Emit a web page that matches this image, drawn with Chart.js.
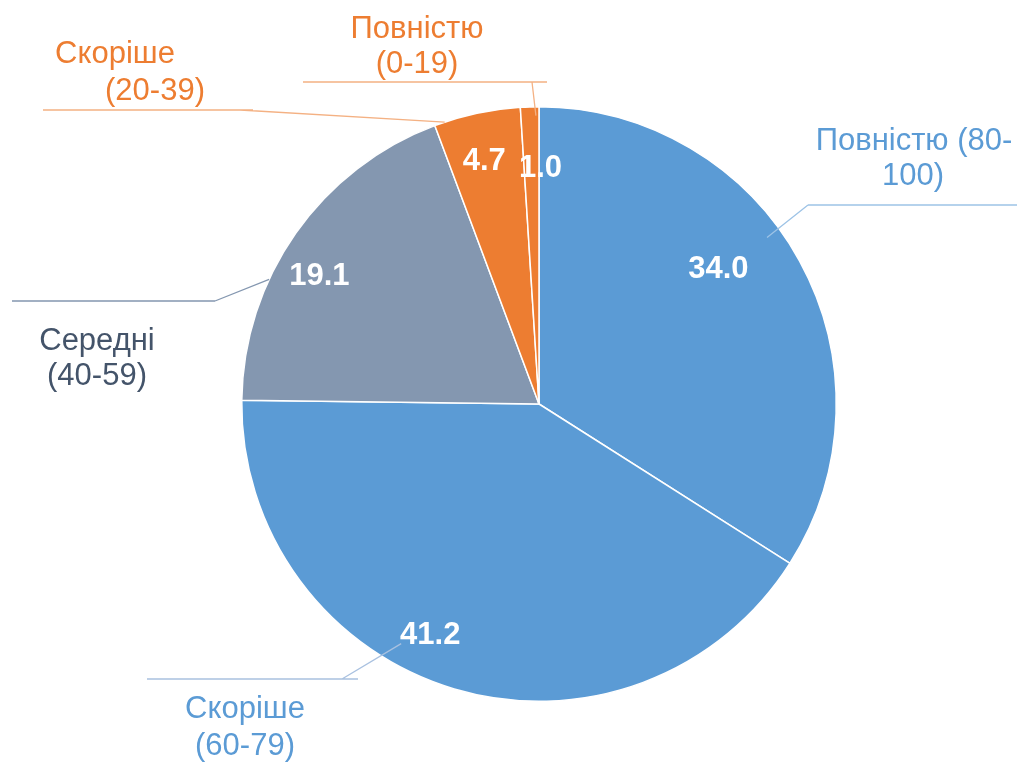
<!DOCTYPE html>
<html><head><meta charset="utf-8">
<script src="https://cdn.jsdelivr.net/npm/chart.js@4.4.1/dist/chart.umd.min.js"></script>
<style>html,body{margin:0;padding:0;background:#fff}#wrap{width:1025px;height:762px;position:relative}</style>
</head><body><div id="wrap"><canvas id="c" width="1025" height="762"></canvas></div>
<script>
// ---- data ----
const categories = [['Повністю (80-','100)'], ['Скоріше','(60-79)'], ['Середні','(40-59)'], ['Скоріше','(20-39)'], ['Повністю','(0-19)']];
const values = [34.0, 41.2, 19.1, 4.7, 1.0];
const valueLabels = values.map(v => v.toFixed(1));

// ---- styles ----
const sliceColors = ['#5B9BD5','#5B9BD5','#8497B0','#ED7D31','#ED7D31'];
const textColors = ['#5B9BD5','#5B9BD5','#44546A','#ED7D31','#ED7D31'];
const leaderColors = ['#9DC3E6','#A9C1E0','#8497B0','#F4B183','#F4B183'];

// ---- callout layout (text baselines, horizontal rule, elbow, anchor on slice) ----
const callouts = [
  {lines:[[914,150],[913,185]], rule:[808,1017,205], elbow:[808,205], t:0.44, rf:0.95},
  {lines:[[245,718],[245,755]], rule:[147,358,679], elbow:[342,679], t:0.59, rf:0.93},
  {lines:[[97,350],[97,385]],   rule:[12,215,301],   elbow:[215,301], t:0.35, rf:1.0},
  {lines:[[115,63],[155,100]],  rule:[43,253,110],   elbow:[240,110], t:0.12, rf:1.0},
  {lines:[[417,38],[417,73]],   rule:[303,547,82],   elbow:[532,82],  t:0.83, rf:0.97}
];
const valueOffsets = [[-29,-23],[-41,1],[-25,7],[-5,-13],[9,0]];
const FONT = '"Liberation Sans", Arial, sans-serif';

const calloutPlugin = {
  id: 'callouts',
  afterDatasetsDraw(chart) {
    const ctx = chart.ctx;
    const arcs = chart.getDatasetMeta(0).data;
    const props = arcs.map(a => a.getProps(['x','y','startAngle','endAngle','outerRadius'], true));
    ctx.save();
    // leader lines
    props.forEach((p, i) => {
      const c = callouts[i];
      const a = p.startAngle + c.t * (p.endAngle - p.startAngle);
      const ax = p.x + Math.cos(a) * p.outerRadius * c.rf;
      const ay = p.y + Math.sin(a) * p.outerRadius * c.rf;
      ctx.strokeStyle = leaderColors[i];
      ctx.lineWidth = 1.3;
      ctx.beginPath();
      ctx.moveTo(c.rule[0], c.rule[2]); ctx.lineTo(c.rule[1], c.rule[2]);
      ctx.moveTo(c.elbow[0], c.elbow[1]); ctx.lineTo(ax, ay);
      ctx.stroke();
    });
    // category texts
    ctx.textAlign = 'center';
    ctx.textBaseline = 'alphabetic';
    ctx.font = '31px ' + FONT;
    props.forEach((p, i) => {
      ctx.fillStyle = textColors[i];
      categories[i].forEach((t, k) => ctx.fillText(t, callouts[i].lines[k][0], callouts[i].lines[k][1]));
    });
    // value labels
    const fs = 31;
    ctx.font = 'bold ' + fs + 'px ' + FONT;
    ctx.fillStyle = '#ffffff';
    props.forEach((p, i) => {
      const m = (p.startAngle + p.endAngle) / 2;
      const vx = p.x + Math.cos(m) * p.outerRadius * 0.8 + valueOffsets[i][0];
      const vy = p.y + Math.sin(m) * p.outerRadius * 0.8 + valueOffsets[i][1];
      ctx.fillText(valueLabels[i], vx, vy + 0.36 * fs);
    });
    ctx.restore();
  }
};

new Chart(document.getElementById('c'), {
  type: 'pie',
  data: {
    labels: categories.map(c => c.join(' ')),
    datasets: [{
      data: values,
      backgroundColor: sliceColors,
      borderColor: '#ffffff',
      borderWidth: 1.5
    }]
  },
  options: {
    responsive: false,
    animation: false,
    layout: { padding: { top: 106, bottom: 60, left: 241, right: 188 } },
    plugins: { legend: { display: false }, tooltip: { enabled: false } }
  },
  plugins: [calloutPlugin]
});
</script>
</body></html>
